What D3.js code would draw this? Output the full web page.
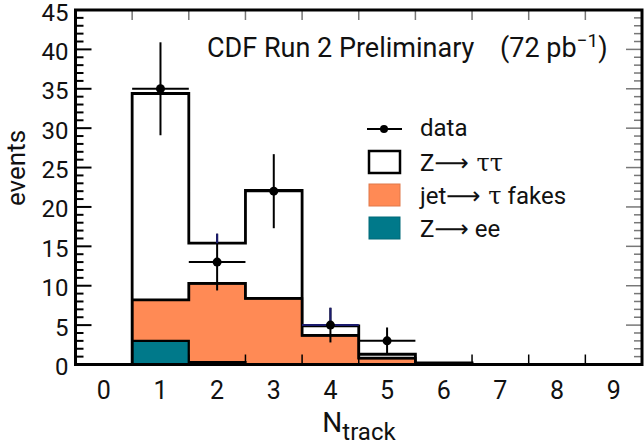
<!DOCTYPE html>
<html lang="en">
<head>
<meta charset="UTF-8">
<title>CDF N_track</title>
<style>
    body { margin: 0; background: #fff; }
    svg { display: block; }
    text { font-family: Roboto, "Noto Sans", sans-serif; fill: #111; }
</style>
<script src="https://d3js.org/d3.v7.min.js"></script>
</head>
<body>
<svg width="644" height="446"></svg>
<script>
    // N_track bins 0..9
    const bins = [0, 1, 2, 3, 4, 5, 6, 7, 8, 9];
    // stacked MC contributions (events per bin)
    const zee    = [0, 3.0, 0.3, 0.05, 0,   0,   0,   0, 0, 0];
    const fakes  = [0, 5.2, 10.0, 8.35, 3.7, 0.8, 0.1, 0, 0, 0];
    const ztt    = [0, 26.2, 5.1, 13.7, 1.2, 0.5, 0.1, 0, 0, 0];
    // data points
    const dataBins = [1, 2, 3, 4, 5];
    const dataVals = [35, 13, 22, 5, 3];
    const dataErrs = [5.9, 3.6, 4.7, 2.2, 1.7];
    const yTicks = [0, 5, 10, 15, 20, 25, 30, 35, 40, 45];

    const svg = d3.select("svg");
    const x = d3.scaleLinear().domain([-0.5, 9.5]).range([75.5, 642]);
    const y = d3.scaleLinear().domain([0, 45]).range([364.5, 10]);

    const table = bins.map((b, i) => ({bin: b, zee: zee[i], fakes: fakes[i], ztt: ztt[i]}));
    const stack = d3.stack().keys(["zee", "fakes", "ztt"])(table);
    const fills = {zee: "#00798a", fakes: "#ff8a55", ztt: "#ffffff"};
    const widths = {zee: 1.8, fakes: 2.2, ztt: 2.8};

    // step-shaped band: two points per bin
    function stepPoints(layer) {
        const pts = [];
        layer.forEach(d => {
            pts.push({x: d.data.bin - 0.5, y0: d[0], y1: d[1]});
            pts.push({x: d.data.bin + 0.5, y0: d[0], y1: d[1]});
        });
        return pts;
    }
    const area = d3.area().x(d => x(d.x)).y0(d => y(d.y0)).y1(d => y(d.y1));

    stack.forEach(layer => {
        svg.append("path")
            .attr("d", area(stepPoints(layer)))
            .attr("fill", fills[layer.key])
            .attr("stroke", "#000")
            .attr("stroke-width", widths[layer.key])
            .attr("stroke-linejoin", "miter");
    });

    // data with error bars
    const totals = bins.map((b, i) => zee[i] + fakes[i] + ztt[i]);
    const gData = svg.append("g");
    dataBins.forEach((b, i) => {
        const v = dataVals[i], e = dataErrs[i];
        gData.append("line")
            .attr("x1", x(b)).attr("x2", x(b))
            .attr("y1", y(v - e)).attr("y2", y(v + e))
            .attr("stroke", "#000").attr("stroke-width", 2);
        if (b === 2 || b === 4) {
            gData.append("line")
                .attr("x1", x(b)).attr("x2", x(b))
                .attr("y1", y(Math.max(totals[b], v))).attr("y2", y(v + e))
                .attr("stroke", "#1b1b6e").attr("stroke-width", 2);
        }
        gData.append("line")
            .attr("x1", x(b - 0.5)).attr("x2", x(b + 0.5))
            .attr("y1", y(v)).attr("y2", y(v))
            .attr("stroke", b === 4 ? "#1b1b6e" : "#000").attr("stroke-width", 2);
        gData.append("circle")
            .attr("cx", x(b)).attr("cy", y(v)).attr("r", 4.5)
            .attr("fill", "#000");
    });

    // frame and ticks
    const halfEdges = d3.range(0.5, 9, 1);
    svg.append("g").selectAll("line").data(halfEdges).join("line")
        .attr("x1", d => x(d)).attr("x2", d => x(d))
        .attr("y1", y(0)).attr("y2", y(0) - 10)
        .attr("stroke", "#000").attr("stroke-width", 1.5);
    svg.append("g").selectAll("line").data(halfEdges).join("line")
        .attr("x1", d => x(d)).attr("x2", d => x(d))
        .attr("y1", y(45)).attr("y2", y(45) + 10)
        .attr("stroke", "#777").attr("stroke-width", 1.5);

    const minor = d3.range(1, 45, 1);
    svg.append("g").selectAll("line").data(minor).join("line")
        .attr("x1", x.range()[0]).attr("x2", d => x.range()[0] + (d % 5 === 0 ? 16 : 8))
        .attr("y1", d => y(d)).attr("y2", d => y(d))
        .attr("stroke", "#000").attr("stroke-width", 2);
    svg.append("g").selectAll("line").data(minor).join("line")
        .attr("x1", x.range()[1]).attr("x2", d => x.range()[1] - (d % 5 === 0 ? 16 : 8))
        .attr("y1", d => y(d)).attr("y2", d => y(d))
        .attr("stroke", "#777").attr("stroke-width", 1.5);

    svg.append("rect")
        .attr("x", x.range()[0]).attr("y", y(45))
        .attr("width", x.range()[1] - x.range()[0]).attr("height", y(0) - y(45))
        .attr("fill", "none").attr("stroke", "#000").attr("stroke-width", 3);

    // tick labels
    svg.append("g").selectAll("text").data(yTicks).join("text")
        .attr("x", x.range()[0] - 7).attr("y", d => y(d) + 10.5)
        .attr("text-anchor", "end")
        .attr("font-size", 24).text(d => d);
    svg.append("g").selectAll("text").data(bins).join("text")
        .attr("x", d => x(d)).attr("y", 399)
        .attr("text-anchor", "middle")
        .attr("font-size", 25).text(d => d);

    // axis titles
    const xt = svg.append("text").attr("x", 359).attr("y", 432)
        .attr("text-anchor", "middle").attr("font-size", 28);
    xt.append("tspan").text("N");
    xt.append("tspan").attr("dy", 8).attr("font-size", 24).text("track");

    svg.append("text")
        .attr("transform", "translate(25,168) rotate(-90)")
        .attr("text-anchor", "middle").attr("font-size", 26).text("events");

    // title
    svg.append("text").attr("x", 207).attr("y", 57).attr("font-size", 27)
        .text("CDF Run 2 Preliminary");
    const title = svg.append("text").attr("x", 500).attr("y", 57).attr("font-size", 27);
    title.append("tspan").text("(72 pb");
    title.append("tspan").attr("dy", -10).attr("font-size", 19).text("\u22121");
    title.append("tspan").attr("dy", 10).text(")");

    // legend
    const lg = svg.append("g");
    lg.append("line").attr("x1", 367).attr("x2", 402).attr("y1", 129).attr("y2", 129)
        .attr("stroke", "#000").attr("stroke-width", 2);
    lg.append("circle").attr("cx", 384).attr("cy", 129).attr("r", 4).attr("fill", "#000");
    lg.append("text").attr("x", 420).attr("y", 136).attr("font-size", 24).text("data");

    const boxes = [
        {fill: "#ffffff", stroke: "#000", sw: 2.5, y: 151},
        {fill: "#ff8a55", stroke: "#e0784a", sw: 1, y: 184},
        {fill: "#00798a", stroke: "#006a78", sw: 1, y: 217}
    ];
    boxes.forEach(b => {
        lg.append("rect").attr("x", 369).attr("y", b.y).attr("width", 31).attr("height", 22)
            .attr("fill", b.fill).attr("stroke", b.stroke).attr("stroke-width", b.sw);
    });

    function legendText(yy, parts) {
        const t = lg.append("text").attr("x", 420).attr("y", yy).attr("font-size", 24);
        parts.forEach(p => {
            const s = t.append("tspan").text(p[0]);
            if (p[1]) s.style("font-family", p[1]);
        });
    }
    legendText(171, [["Z"], ["\u27F6", "DejaVu Sans"], [" \u03C4\u03C4", "DejaVu Serif"]]);
    legendText(204, [["jet"], ["\u27F6", "DejaVu Sans"], [" \u03C4", "DejaVu Serif"], [" fakes"]]);
    legendText(237, [["Z"], ["\u27F6", "DejaVu Sans"], [" ee"]]);
</script>
</body>
</html>
